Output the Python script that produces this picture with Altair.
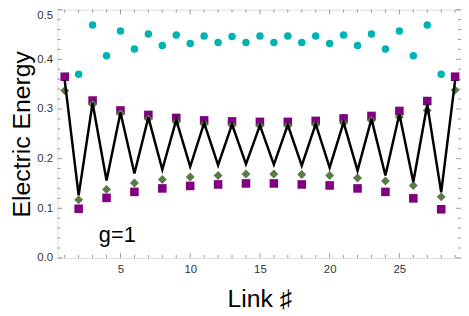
import altair as alt
import pandas as pd

# ---- data ----
links = list(range(1, 30))
cyan_links = list(range(2, 29))
cyan_vals = [0.370, 0.469, 0.407, 0.457, 0.421, 0.451, 0.428, 0.449, 0.432, 0.447,
             0.434, 0.446, 0.434, 0.447, 0.434, 0.447, 0.434, 0.447, 0.432, 0.449,
             0.428, 0.451, 0.421, 0.457, 0.407, 0.469, 0.370]
square_vals = [0.365, 0.099, 0.317, 0.121, 0.297, 0.133, 0.288, 0.140, 0.282, 0.145,
               0.277, 0.148, 0.275, 0.150, 0.274, 0.150, 0.274, 0.148, 0.276, 0.146,
               0.281, 0.140, 0.286, 0.133, 0.296, 0.120, 0.316, 0.098, 0.365]
diamond_vals = [0.337, 0.117, 0.309, 0.138, 0.291, 0.151, 0.280, 0.158, 0.274, 0.163,
                0.269, 0.166, 0.267, 0.169, 0.266, 0.169, 0.266, 0.168, 0.268, 0.166,
                0.272, 0.161, 0.277, 0.155, 0.284, 0.146, 0.297, 0.123, 0.338]
line_vals = [0.358, 0.126, 0.312, 0.156, 0.293, 0.170, 0.283, 0.178, 0.278, 0.184,
             0.272, 0.187, 0.269, 0.189, 0.267, 0.188, 0.268, 0.186, 0.270, 0.182,
             0.273, 0.176, 0.280, 0.166, 0.290, 0.153, 0.309, 0.132, 0.358]

x_major = [5, 10, 15, 20, 25]
x_minor = [v for v in range(1, 30) if v % 5 != 0]
y_major = [0.0, 0.1, 0.2, 0.3, 0.4, 0.5]
y_minor = [round(0.02 * i, 2) for i in range(1, 25) if i % 5 != 0]

note_text = ["g=1"]
note_x = [3.45]
note_y = [0.032]

# ---- tables ----
df_cyan = pd.DataFrame({"link": cyan_links, "v": cyan_vals})
df_sq = pd.DataFrame({"link": links, "v": square_vals})
df_di = pd.DataFrame({"link": links, "v": diamond_vals})
df_line = pd.DataFrame({"link": links, "v": line_vals})
df_xmaj = pd.DataFrame({"t": x_major})
df_xmin = pd.DataFrame({"t": x_minor})
df_ymaj = pd.DataFrame({"t": y_major})
df_ymin = pd.DataFrame({"t": y_minor})
df_note = pd.DataFrame({"x": note_x, "y": note_y, "label": note_text})

W, H = 408, 251
FRAME = "#999999"

x_scale = alt.Scale(domain=[0.48, 29.42], nice=False, zero=False)
y_scale = alt.Scale(domain=[0, 0.5], nice=False, zero=False)

x_axis = alt.Axis(values=x_major, format="d", ticks=False, domain=False, grid=False,
                  labelFontSize=11.5, labelPadding=6, labelColor="#333333",
                  labelFont="Liberation Sans",
                  title="Link ♯", titleFontSize=25, titleFontWeight="normal",
                  titleFont="Liberation Sans", titleColor="black",
                  titleBaseline="alphabetic", titleY=49, titleX=W / 2, titleAlign="center")
y_axis = alt.Axis(values=y_major, format=".1f", ticks=False, domain=False, grid=False,
                  labelFontSize=11.5, labelPadding=5, labelColor="#333333",
                  labelFont="Liberation Sans",
                  labelBaseline={"expr": "datum.value > 0.45 ? 'top' : 'middle'"},
                  title="Electric Energy", titleFontSize=25, titleFontWeight="normal",
                  titleFont="Liberation Sans", titleColor="black",
                  titleBaseline="alphabetic", titleX=-28, titleY=H / 2,
                  titleAlign="center", titleAngle=270)


def X(field):
    return alt.X(f"{field}:Q", scale=x_scale, axis=x_axis)


def Y(field):
    return alt.Y(f"{field}:Q", scale=y_scale, axis=y_axis)


cyan = alt.Chart(df_cyan).mark_point(shape="circle", filled=True, size=57, color="#00B3B3",
                                     opacity=1).encode(x=X("link"), y=Y("v"))
squares = alt.Chart(df_sq).mark_point(shape="square", filled=True, size=75, color="#800080",
                                      opacity=1).encode(x=X("link"), y=Y("v"))
diamonds = alt.Chart(df_di).mark_point(shape="diamond", filled=True, size=81, color="#5B7A45",
                                       opacity=1).encode(x=X("link"), y=Y("v"))
line = alt.Chart(df_line).mark_line(color="black", strokeWidth=2.5).encode(x=X("link"), y=Y("v"))

note = alt.Chart(df_note).mark_text(align="left", baseline="alphabetic", fontSize=22,
                                    font="Liberation Sans", color="black").encode(
    x=X("x"), y=Y("y"), text="label:N")

tick_layers = []
for df, ln in ((df_xmaj, 5), (df_xmin, 3)):
    tick_layers.append(alt.Chart(df).mark_rule(color=FRAME, strokeWidth=1).encode(
        x=X("t"), y=alt.value(H), y2=alt.value(H - ln)))
    tick_layers.append(alt.Chart(df).mark_rule(color=FRAME, strokeWidth=1).encode(
        x=X("t"), y=alt.value(0), y2=alt.value(ln)))
for df, ln in ((df_ymaj, 5), (df_ymin, 3)):
    tick_layers.append(alt.Chart(df).mark_rule(color=FRAME, strokeWidth=1).encode(
        y=Y("t"), x=alt.value(0), x2=alt.value(ln)))
    tick_layers.append(alt.Chart(df).mark_rule(color=FRAME, strokeWidth=1).encode(
        y=Y("t"), x=alt.value(W), x2=alt.value(W - ln)))

chart = alt.layer(*tick_layers, cyan, squares, diamonds, line, note).properties(
    width=W, height=H,
    autosize=alt.AutoSizeParams(type="none"),
    padding={"left": 50, "top": 0, "right": 0, "bottom": 56},
).configure_view(stroke=FRAME, strokeWidth=1).configure(background="white")

chart.save("out.html", embed_options={"renderer": "svg", "actions": False})
